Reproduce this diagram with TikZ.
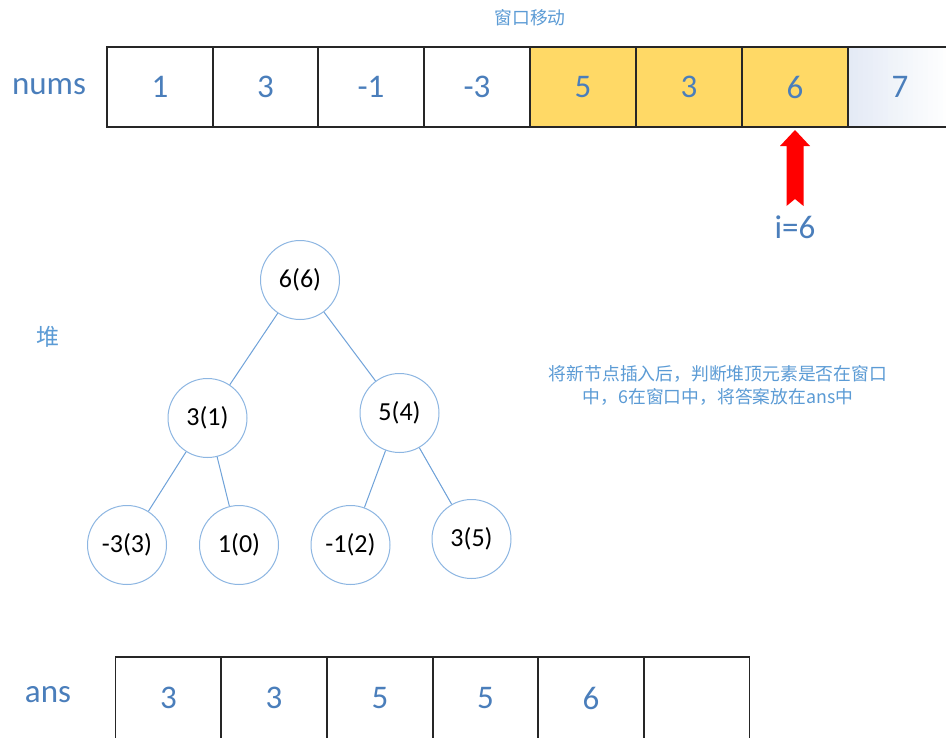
\documentclass[tikz,border=0pt]{standalone}
\usepackage{fontspec}
\setmainfont{Carlito}
\newfontfamily\cjk{Noto Sans CJK SC}
\definecolor{numblue}{HTML}{4A7EBB}
\definecolor{cjkblue}{HTML}{5B9BD5}
\definecolor{gold}{HTML}{FFD966}
\definecolor{ringblue}{HTML}{8DB6E2}
\definecolor{edgeblue}{HTML}{6FA2D9}
\definecolor{fade}{HTML}{E4EAF5}
\tikzset{
  cellbox/.style={draw=black!85, line width=1.2pt, minimum width=106pt, minimum height=80pt, inner sep=0pt, text=numblue, font=\fontsize{33}{36}\selectfont},
  heapnode/.style={circle, draw=ringblue, line width=1pt, fill=white, minimum size=79pt, inner sep=0pt, font=\fontsize{26}{28}\selectfont},
  treeedge/.style={draw=edgeblue, line width=1pt},
  biglabel/.style={text=numblue, font=\fontsize{33}{36}\selectfont},
  note/.style={text=cjkblue, font=\cjk\fontsize{17.8}{23}\selectfont, align=center}
}
\begin{document}
\begin{tikzpicture}[x=1pt,y=-1pt]
\clip (0,0) rectangle (946,737);
\fill[white] (0,0) rectangle (946,737);
% top title
\node[note] (title) at (530,18) {窗口移动};
% nums row
\node[biglabel] (numslabel) at (49,87) {nums};
\node[cellbox] (n0) at (160,87) {1};
\node[cellbox] (n1) at (265.5,87) {3};
\node[cellbox] (n2) at (371,87) {-1};
\node[cellbox] (n3) at (477,87) {-3};
\node[cellbox, fill=gold] (n4) at (583,87) {5};
\node[cellbox, fill=gold] (n5) at (689,87) {3};
\node[cellbox, fill=gold] (n6) at (795,87) {6};
\foreach \k in {0,...,19} {
  \pgfmathsetmacro{\pct}{100-5*\k}
  \fill[fade!\pct!white] (848+5*\k,47) rectangle (853.5+5*\k,127);
}
\draw[black!85, line width=1.2pt] (946,47) -- (848,47) -- (848,127) -- (946,127);
\node[text=numblue, font=\fontsize{33}{36}\selectfont] (n7) at (900,87) {7};
% red arrow
\fill[red] (795,130) -- (810,146) -- (803.5,146) -- (803.5,206) -- (795,199) -- (786.5,206) -- (786.5,146) -- (780,146) -- cycle;
\node[text=numblue, font=\fontsize{33}{36}\selectfont] (ilabel) at (795,227) {i=6};
% heap label
\node[text=cjkblue, font=\cjk\fontsize{23}{25}\selectfont] (heaplabel) at (48,337) {堆};
% tree
\node[heapnode] (h66) at (300,280) {6(6)};
\node[heapnode] (h31) at (207.5,418) {3(1)};
\node[heapnode] (h54) at (399.5,413) {5(4)};
\node[heapnode] (h33) at (127,545) {-3(3)};
\node[heapnode] (h10) at (239,545) {1(0)};
\node[heapnode] (h12) at (350.5,545) {-1(2)};
\node[heapnode] (h35) at (471.5,539) {3(5)};
\draw[treeedge] (h66) -- (h31);
\draw[treeedge] (h66) -- (h54);
\draw[treeedge] (h31) -- (h33);
\draw[treeedge] (h31) -- (h10);
\draw[treeedge] (h54) -- (h12);
\draw[treeedge] (h54) -- (h35);
% note
\node[note] (explain) at (718,385) {将新节点插入后，判断堆顶元素是否在窗口\\中，6在窗口中，将答案放在ans中};
% ans row
\node[biglabel] (anslabel) at (48,695) {ans};
\node[cellbox, minimum height=82pt] (a0) at (168.5,698) {3};
\node[cellbox, minimum height=82pt] (a1) at (274,698) {3};
\node[cellbox, minimum height=82pt] (a2) at (380,698) {5};
\node[cellbox, minimum height=82pt] (a3) at (485.5,698) {5};
\node[cellbox, minimum height=82pt] (a4) at (591,698) {6};
\node[cellbox, minimum height=82pt] (a5) at (696.5,698) {};
\end{tikzpicture}
\end{document}
